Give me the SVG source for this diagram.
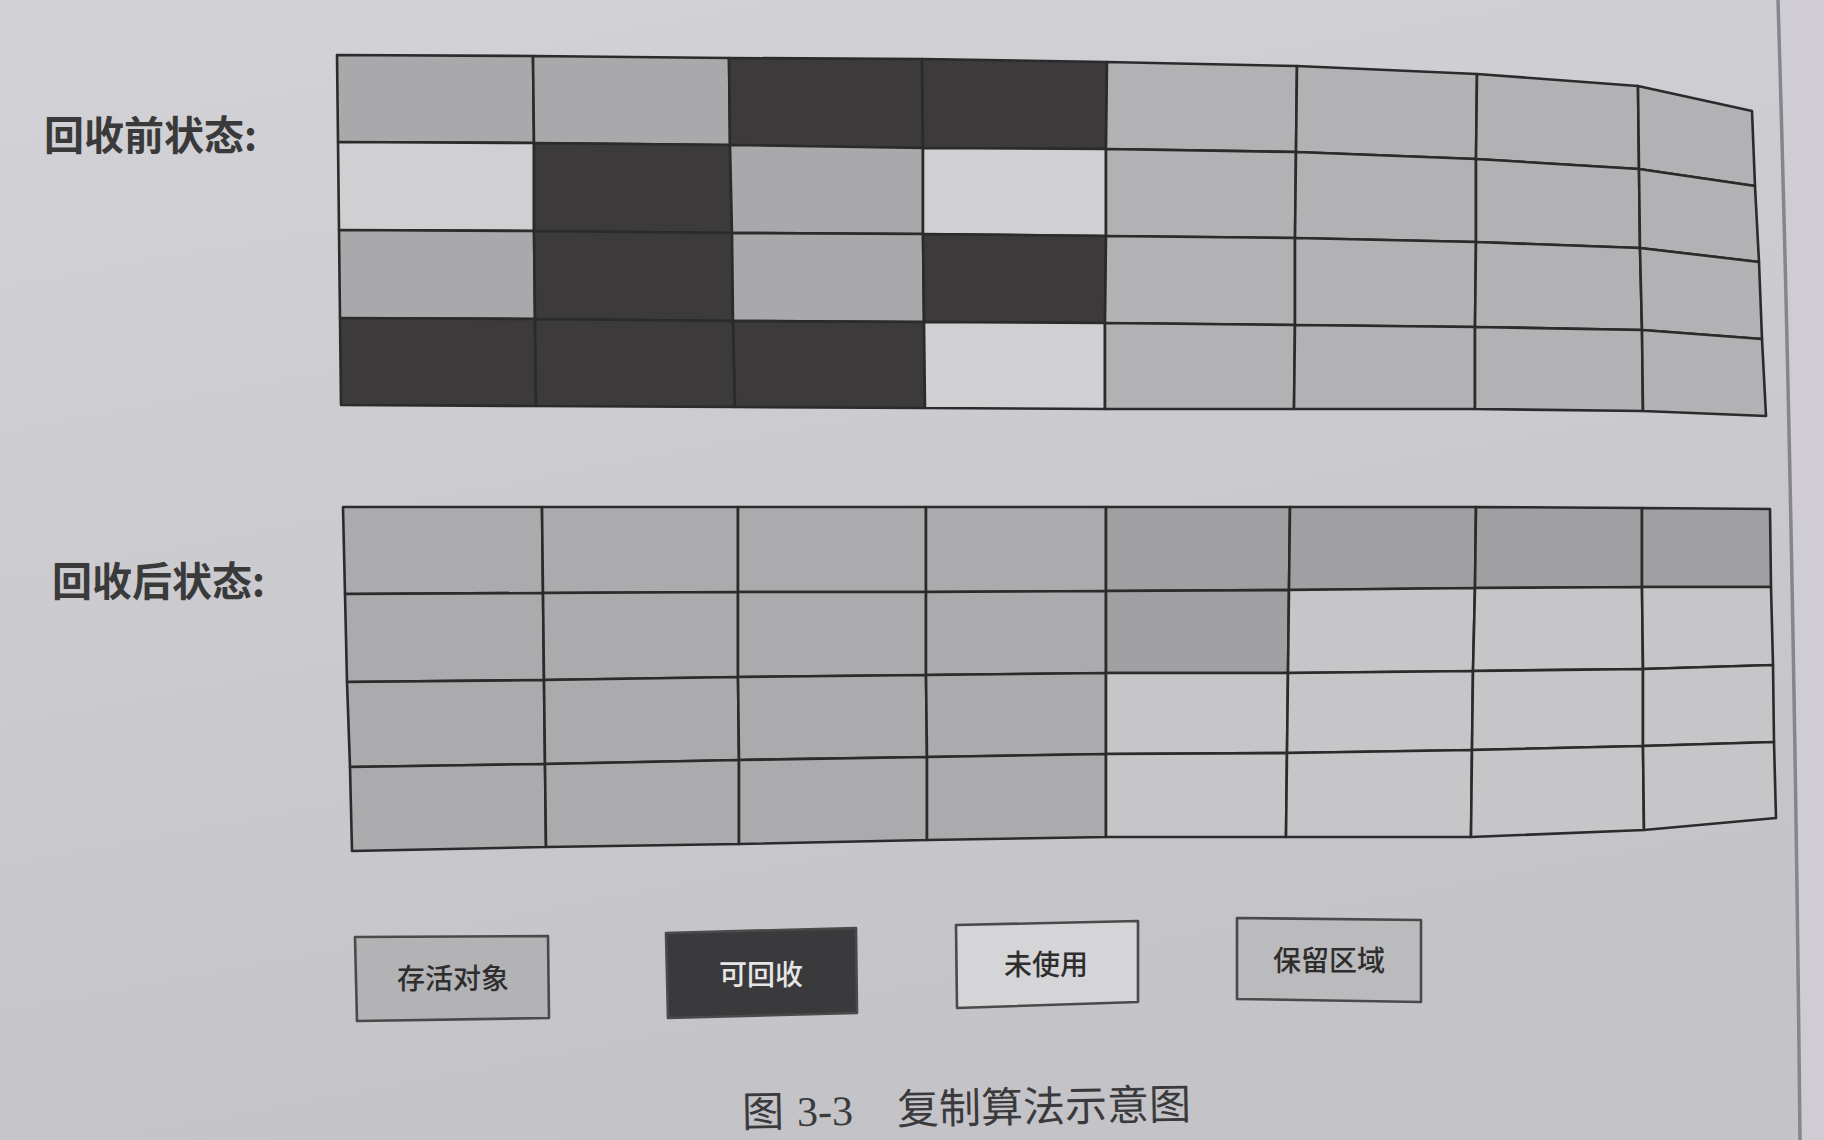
<svg xmlns="http://www.w3.org/2000/svg" width="1824" height="1140" viewBox="0 0 1824 1140">
<defs>
<linearGradient id="paper" x1="0" y1="0" x2="0.3" y2="1">
<stop offset="0" stop-color="#d3d3d7"/>
<stop offset="1" stop-color="#c3c3c8"/>
</linearGradient>
<style>
.cell{stroke:#2b2b2c;stroke-width:2.6;stroke-linejoin:round}
.live{fill:#a9a9ab}
.dead{fill:#3c3a3b}
.free{fill:#d0d0d3}
.resv{fill:#b2b2b4}
.aresv{fill:#ababad}
.alive{fill:#a0a0a3}
.afree{fill:#c6c6c9}
.lab{font-family:"Noto Sans CJK SC","Noto Sans",sans-serif;font-weight:700;font-size:40px;fill:#3a3a3b}
.leg{font-family:"Noto Sans CJK SC","Noto Sans",sans-serif;font-size:28px;font-weight:500;fill:#2e2e2e;text-anchor:middle}
.box{stroke:#4a4a4b;stroke-width:2.6;stroke-linejoin:round}
.cap{font-family:"Liberation Serif","Noto Sans CJK SC",serif;font-size:42px;fill:#3a3a3c}
</style>
</defs>
<rect x="0" y="0" width="1824" height="1140" fill="url(#paper)"/>
<path d="M1778,0 C1787,300 1795,650 1800,1140 L1824,1140 L1824,0 Z" fill="#d0ccd3"/>
<path d="M1778,0 C1787,300 1795,650 1800,1140" fill="none" stroke="#85858b" stroke-width="3.5"/>

<text class="lab" x="44" y="150">回收前状态:</text>
<text class="lab" x="52" y="596">回收后状态:</text>

<g id="grid-before">
<polygon class="cell live" points="337,55 533,56 534,143 338,142"/>
<polygon class="cell live" points="533,56 729,58 730,145 534,143"/>
<polygon class="cell dead" points="729,58 922,59 923,148 730,145"/>
<polygon class="cell dead" points="922,59 1107,62 1106,149 923,148"/>
<polygon class="cell resv" points="1107,62 1297,66 1296,152 1106,149"/>
<polygon class="cell resv" points="1297,66 1477,74 1476,159 1296,152"/>
<polygon class="cell resv" points="1477,74 1638,86 1639,169 1476,159"/>
<polygon class="cell resv" points="1638,86 1752,111 1755,186 1639,169"/>
<polygon class="cell free" points="338,142 534,143 534,231 339,230"/>
<polygon class="cell dead" points="534,143 730,145 732,233 534,231"/>
<polygon class="cell live" points="730,145 923,148 923,234 732,233"/>
<polygon class="cell free" points="923,148 1106,149 1106,236 923,234"/>
<polygon class="cell resv" points="1106,149 1296,152 1295,238 1106,236"/>
<polygon class="cell resv" points="1296,152 1476,159 1476,242 1295,238"/>
<polygon class="cell resv" points="1476,159 1639,169 1640,248 1476,242"/>
<polygon class="cell resv" points="1639,169 1755,186 1759,262 1640,248"/>
<polygon class="cell live" points="339,230 534,231 535,319 340,318"/>
<polygon class="cell dead" points="534,231 732,233 733,321 535,319"/>
<polygon class="cell live" points="732,233 923,234 924,322 733,321"/>
<polygon class="cell dead" points="923,234 1106,236 1105,323 924,322"/>
<polygon class="cell resv" points="1106,236 1295,238 1295,325 1105,323"/>
<polygon class="cell resv" points="1295,238 1476,242 1475,327 1295,325"/>
<polygon class="cell resv" points="1476,242 1640,248 1642,330 1475,327"/>
<polygon class="cell resv" points="1640,248 1759,262 1762,339 1642,330"/>
<polygon class="cell dead" points="340,318 535,319 536,406 341,405"/>
<polygon class="cell dead" points="535,319 733,321 735,407 536,406"/>
<polygon class="cell dead" points="733,321 924,322 925,408 735,407"/>
<polygon class="cell free" points="924,322 1105,323 1105,409 925,408"/>
<polygon class="cell resv" points="1105,323 1295,325 1294,409 1105,409"/>
<polygon class="cell resv" points="1295,325 1475,327 1475,409 1294,409"/>
<polygon class="cell resv" points="1475,327 1642,330 1643,411 1475,409"/>
<polygon class="cell resv" points="1642,330 1762,339 1766,416 1643,411"/>
</g>

<g id="grid-after">
<polygon class="cell aresv" points="343,507 542,507 543,593 345,594"/>
<polygon class="cell aresv" points="542,507 738,507 738,592 543,593"/>
<polygon class="cell aresv" points="738,507 926,507 926,592 738,592"/>
<polygon class="cell aresv" points="926,507 1106,507 1106,591 926,592"/>
<polygon class="cell alive" points="1106,507 1290,507 1289,590 1106,591"/>
<polygon class="cell alive" points="1290,507 1476,507 1475,588 1289,590"/>
<polygon class="cell alive" points="1476,507 1642,508 1642,587 1475,588"/>
<polygon class="cell alive" points="1642,508 1770,509 1771,587 1642,587"/>
<polygon class="cell aresv" points="345,594 543,593 544,680 347,682"/>
<polygon class="cell aresv" points="543,593 738,592 738,677 544,680"/>
<polygon class="cell aresv" points="738,592 926,592 926,675 738,677"/>
<polygon class="cell aresv" points="926,592 1106,591 1106,673 926,675"/>
<polygon class="cell alive" points="1106,591 1289,590 1288,673 1106,673"/>
<polygon class="cell afree" points="1289,590 1475,588 1473,671 1288,673"/>
<polygon class="cell afree" points="1475,588 1642,587 1643,669 1473,671"/>
<polygon class="cell afree" points="1642,587 1771,587 1773,665 1643,669"/>
<polygon class="cell aresv" points="347,682 544,680 545,764 350,767"/>
<polygon class="cell aresv" points="544,680 738,677 739,760 545,764"/>
<polygon class="cell aresv" points="738,677 926,675 927,757 739,760"/>
<polygon class="cell aresv" points="926,675 1106,673 1106,754 927,757"/>
<polygon class="cell afree" points="1106,673 1288,673 1287,753 1106,754"/>
<polygon class="cell afree" points="1288,673 1473,671 1472,750 1287,753"/>
<polygon class="cell afree" points="1473,671 1643,669 1643,746 1472,750"/>
<polygon class="cell afree" points="1643,669 1773,665 1774,742 1643,746"/>
<polygon class="cell aresv" points="350,767 545,764 546,847 352,851"/>
<polygon class="cell aresv" points="545,764 739,760 739,844 546,847"/>
<polygon class="cell aresv" points="739,760 927,757 927,840 739,844"/>
<polygon class="cell aresv" points="927,757 1106,754 1106,837 927,840"/>
<polygon class="cell afree" points="1106,754 1287,753 1286,837 1106,837"/>
<polygon class="cell afree" points="1287,753 1472,750 1471,837 1286,837"/>
<polygon class="cell afree" points="1472,750 1643,746 1644,830 1471,837"/>
<polygon class="cell afree" points="1643,746 1774,742 1776,818 1644,830"/>
</g>

<g id="legend-live">
<polygon class="box" fill="#b3b3b5" points="355,937 548,936 549,1018 357,1021"/>
<text class="leg" x="453" y="989">存活对象</text>
</g>
<g id="legend-dead">
<polygon class="box" fill="#3a3a3c" points="666,933 856,928 857,1013 668,1018"/>
<text class="leg" x="761" y="985" style="fill:#e6e6e8">可回收</text>
</g>
<g id="legend-free">
<polygon class="box" fill="#d5d5d8" points="956,925 1138,921 1138,1002 957,1008"/>
<text class="leg" x="1046" y="975">未使用</text>
</g>
<g id="legend-resv">
<polygon class="box" fill="#bbbbbd" points="1237,918 1421,920 1421,1002 1237,999"/>
<text class="leg" x="1329" y="971">保留区域</text>
</g>

<g id="caption" transform="rotate(-1 966 1110)">
<text class="cap" y="1123"><tspan x="742">图</tspan><tspan x="797">3-3</tspan><tspan x="897">复制算法示意图</tspan></text>
</g>
</svg>
